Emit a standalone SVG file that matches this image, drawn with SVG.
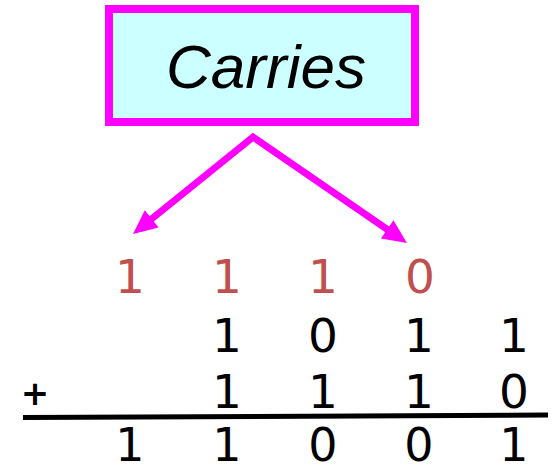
<svg xmlns="http://www.w3.org/2000/svg" width="553" height="472" viewBox="0 0 553 472">
<style>
.box{fill:#CCFFFF;stroke:#FF00FF;stroke-width:8}
.title{font-family:"Liberation Sans",Arial,sans-serif;font-style:italic;font-size:62px;fill:#000;text-anchor:middle}
.conn{fill:none;stroke:#FF00FF;stroke-width:7;stroke-linejoin:miter}
.d{font-family:"DejaVu Sans","Noto Sans",sans-serif;font-size:47px;text-anchor:middle;fill:#000}
.c{fill:#C0504D}
.s{font-size:46px}
.plus{font-size:34px;font-weight:bold}
</style>
<defs>
<marker id="ah" markerUnits="userSpaceOnUse" orient="auto-start-reverse" refX="0" refY="0" markerWidth="30" markerHeight="30" overflow="visible">
<path d="M-4,-11 L20,0 L-4,11 z" fill="#FF00FF"/>
</marker>
</defs>
<rect width="553" height="472" fill="#fff"/>
<g id="carries">
<rect class="box" x="109" y="9" width="306" height="113"/>
<text class="title" x="266" y="88">Carries</text>
</g>
<g id="connectors">
<path class="conn" d="M148.6,221.4 L253,137 L390.5,231.7" marker-start="url(#ah)" marker-end="url(#ah)"/>
</g>
<g id="carry-row">
<text class="d c" x="130" y="293">1</text>
<text class="d c" x="227" y="293">1</text>
<text class="d c" x="323" y="293">1</text>
<text class="d c" x="420" y="293">0</text>
</g>
<g id="addend1">
<text class="d" x="227" y="352">1</text>
<text class="d" x="323" y="352">0</text>
<text class="d" x="419" y="352">1</text>
<text class="d" x="514" y="352">1</text>
</g>
<g id="addend2">
<text class="d plus" x="35" y="405">+</text>
<text class="d" x="227" y="408">1</text>
<text class="d" x="323" y="408">1</text>
<text class="d" x="419" y="408">1</text>
<text class="d" x="514" y="408">0</text>
</g>
<g id="rule">
<line x1="23" y1="417.5" x2="548" y2="415" stroke="#000" stroke-width="5"/>
</g>
<g id="sum">
<text class="d s" x="130" y="461">1</text>
<text class="d s" x="227" y="461">1</text>
<text class="d s" x="323" y="461">0</text>
<text class="d s" x="419" y="461">0</text>
<text class="d s" x="514" y="461">1</text>
</g>
</svg>
